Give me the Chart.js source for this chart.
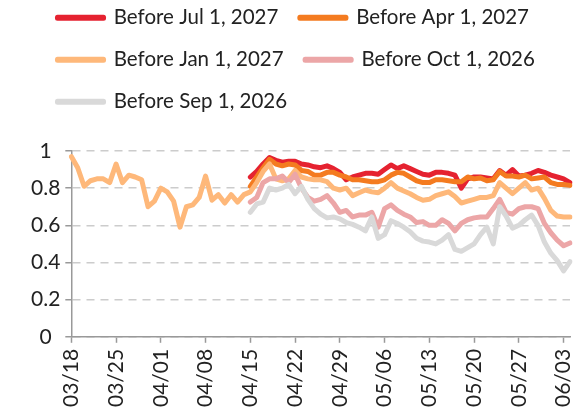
<!DOCTYPE html>
<html>
<head>
<meta charset="utf-8">
<script src="https://cdn.jsdelivr.net/npm/chart.js@4.4.1/dist/chart.umd.min.js"></script>
<style>
  html, body { margin: 0; padding: 0; background: #fff; }
  #wrap { width: 578px; height: 416px; }
</style>
</head>
<body>
<div id="wrap"><canvas id="chart"></canvas></div>
<script>
// Fechas (una por día)
const dates = [
  '03/18','03/19','03/20','03/21','03/22','03/23','03/24','03/25','03/26','03/27','03/28','03/29','03/30','03/31',
  '04/01','04/02','04/03','04/04','04/05','04/06','04/07','04/08','04/09','04/10','04/11','04/12','04/13','04/14',
  '04/15','04/16','04/17','04/18','04/19','04/20','04/21','04/22','04/23','04/24','04/25','04/26','04/27','04/28',
  '04/29','04/30','05/01','05/02','05/03','05/04','05/05','05/06','05/07','05/08','05/09','05/10','05/11','05/12',
  '05/13','05/14','05/15','05/16','05/17','05/18','05/19','05/20','05/21','05/22','05/23','05/24','05/25','05/26',
  '05/27','05/28','05/29','05/30','05/31','06/01','06/02','06/03','06/04'
];
const tickLabels = ['03/18','03/25','04/01','04/08','04/15','04/22','04/29','05/06','05/13','05/20','05/27','06/03'];

// las otras cuatro series empiezan el 04/15
const laterStart = '04/15';

const beforeJan2027 = [
  0.97, 0.91, 0.81, 0.84, 0.85, 0.85, 0.83, 0.93, 0.83, 0.87, 0.86, 0.845, 0.70, 0.73,
  0.80, 0.78, 0.73, 0.59, 0.70, 0.71, 0.75, 0.865, 0.735, 0.765, 0.72, 0.765, 0.725, 0.765,
  0.78, 0.83, 0.89, 0.93, 0.85, 0.84, 0.85, 0.895, 0.86, 0.85, 0.845, 0.845, 0.835, 0.80,
  0.79, 0.80, 0.76, 0.775, 0.79, 0.78, 0.775, 0.80, 0.83, 0.80, 0.785, 0.77, 0.75, 0.735,
  0.74, 0.76, 0.77, 0.78, 0.755, 0.72, 0.73, 0.74, 0.75, 0.75, 0.76, 0.83, 0.80, 0.77,
  0.80, 0.83, 0.79, 0.80, 0.745, 0.68, 0.65, 0.645, 0.645
];
const beforeJul2027 = [
  0.86, 0.89, 0.93, 0.965, 0.95, 0.94, 0.945, 0.945, 0.93, 0.925,
  0.915, 0.91, 0.92, 0.905, 0.885, 0.845, 0.86, 0.87, 0.88, 0.88,
  0.875, 0.90, 0.925, 0.905, 0.92, 0.905, 0.89, 0.875, 0.87, 0.885,
  0.885, 0.88, 0.87, 0.80, 0.85, 0.86, 0.86, 0.855, 0.85, 0.895,
  0.87, 0.90, 0.865, 0.87, 0.88, 0.895, 0.885, 0.87, 0.86, 0.85,
  0.83
];
const beforeApr2027 = [
  0.81, 0.86, 0.91, 0.955, 0.93, 0.92, 0.93, 0.925, 0.895, 0.89,
  0.87, 0.87, 0.885, 0.885, 0.87, 0.86, 0.845, 0.845, 0.84, 0.835,
  0.835, 0.845, 0.87, 0.885, 0.88, 0.86, 0.84, 0.83, 0.83, 0.845,
  0.845, 0.84, 0.835, 0.835, 0.86, 0.85, 0.855, 0.84, 0.845, 0.89,
  0.865, 0.865, 0.86, 0.87, 0.85, 0.855, 0.86, 0.83, 0.82, 0.82,
  0.815
];
const beforeOct2026 = [
  0.725, 0.75, 0.83, 0.85, 0.85, 0.865, 0.83, 0.875, 0.80, 0.75,
  0.73, 0.74, 0.76, 0.72, 0.67, 0.68, 0.645, 0.655, 0.655, 0.67,
  0.59, 0.69, 0.71, 0.68, 0.66, 0.645, 0.615, 0.62, 0.60, 0.60,
  0.63, 0.61, 0.57, 0.61, 0.63, 0.64, 0.645, 0.645, 0.69, 0.74,
  0.67, 0.66, 0.69, 0.70, 0.70, 0.69, 0.61, 0.56, 0.52, 0.49,
  0.505
];
const beforeSep2026 = [
  0.67, 0.715, 0.725, 0.80, 0.79, 0.80, 0.82, 0.77, 0.81, 0.74,
  0.69, 0.66, 0.64, 0.645, 0.635, 0.615, 0.605, 0.59, 0.57, 0.645,
  0.53, 0.55, 0.625, 0.61, 0.59, 0.565, 0.53, 0.515, 0.51, 0.50,
  0.52, 0.55, 0.47, 0.46, 0.48, 0.50, 0.55, 0.59, 0.50, 0.70,
  0.65, 0.585, 0.60, 0.63, 0.655, 0.60, 0.51, 0.45, 0.41, 0.355,
  0.405
];

const yMin = 0;
const yMax = 1;
const yStep = 0.2;

// rellenar con null antes del 04/15
function fromStart(values) {
  const offset = dates.indexOf(laterStart);
  return new Array(offset).fill(null).concat(values);
}

function serie(label, data, color, order) {
  return {
    label: label,
    data: data,
    borderColor: color,
    backgroundColor: color,
    borderWidth: 5,
    borderJoinStyle: 'round',
    borderCapStyle: 'round',
    pointRadius: 0,
    pointHoverRadius: 0,
    tension: 0,
    order: order
  };
}

// mover la leyenda (arriba a la izquierda como en el original)
const legendNudge = {
  id: 'legendNudge',
  afterLayout(chart) {
    chart.legend.left += 10;
    chart.legend.top -= 29;
  }
};

Chart.defaults.font.family = 'Lato, "Noto Sans", sans-serif';
Chart.defaults.color = '#222';

const ctx = document.getElementById('chart').getContext('2d');
const chart = new Chart(ctx, {
  type: 'line',
  data: {
    labels: dates,
    datasets: [
      serie('Before Jul 1, 2027', fromStart(beforeJul2027), '#e52230', 5),
      serie('Before Apr 1, 2027', fromStart(beforeApr2027), '#f47b20', 4),
      serie('Before Jan 1, 2027', beforeJan2027, '#feb87a', 3),
      serie('Before Oct 1, 2026', fromStart(beforeOct2026), '#eca6a7', 2),
      serie('Before Sep 1, 2026', fromStart(beforeSep2026), '#d9d9d9', 1)
    ]
  },
  plugins: [legendNudge],
  options: {
    responsive: true,
    maintainAspectRatio: false,
    animation: false,
    layout: {
      padding: { top: 15, left: 26, right: 8, bottom: 3 }
    },
    plugins: {
      legend: {
        position: 'top',
        align: 'start',
        labels: {
          font: { size: 20.5 },
          color: '#222',
          boxWidth: 46,
          boxHeight: 1,
          padding: 21.5,
          sort: (a, b) => a.datasetIndex - b.datasetIndex
        }
      },
      tooltip: { enabled: false }
    },
    scales: {
      x: {
        afterFit: (scale) => { scale.paddingRight = 0; },
        grid: {
          drawOnChartArea: false,
          tickLength: 6,
          tickColor: '#999',
          tickWidth: 1.5
        },
        border: { display: true, color: '#999', width: 1.5 },
        ticks: {
          autoSkip: false,
          minRotation: 90,
          maxRotation: 90,
          padding: 6,
          color: '#222',
          font: { size: 21 },
          callback: function(value, index) {
            const label = dates[index];
            return tickLabels.includes(label) ? label : null;
          }
        }
      },
      y: {
        min: yMin,
        max: yMax,
        grid: {
          display: true,
          drawOnChartArea: true,
          color: '#cccccc',
          lineWidth: 1.5,
          tickLength: 6,
          tickColor: '#999',
          tickWidth: 1.5,
          tickBorderDash: [0, 0]
        },
        border: { display: true, color: '#999', width: 1.5, dash: [8, 6] },
        ticks: {
          stepSize: yStep,
          padding: 5,
          crossAlign: 'center',
          color: '#222',
          font: { size: 21 },
          callback: (v) => String(Math.round(v * 10) / 10)
        }
      }
    }
  }
});
</script>
</body>
</html>
